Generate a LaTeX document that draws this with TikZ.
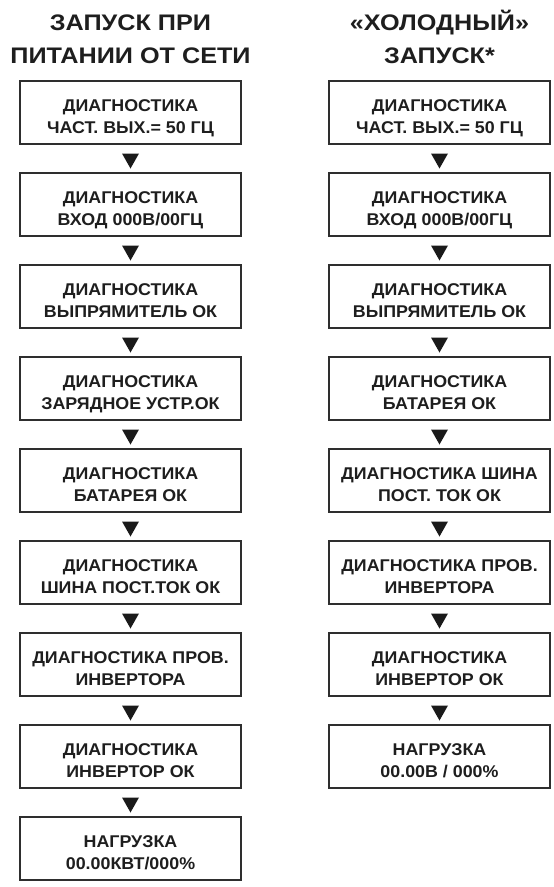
\documentclass[tikz,border=0pt]{standalone}
\usepackage{graphicx}
\usepackage{fontspec}
\setmainfont{Liberation Sans}
\usetikzlibrary{calc}
\definecolor{boxc}{HTML}{2E2E2E}
\definecolor{txtc}{HTML}{1E1E1E}
\definecolor{tric}{HTML}{1A1A1A}
\newcommand{\twoline}[2]{\raisebox{-10pt}[0pt][0pt]{\scalebox{1.05}[1]{\begin{tabular}{@{}c@{}}#1\\#2\end{tabular}}}}
\newcommand{\ttltext}[1]{\scalebox{1.12}[1]{#1}}
\newcommand{\downtri}[2]{\fill[tric] ($(#1.south)!0.5!(#2.north)+(0,2.5)$) ++(-8.5,-7.5) -- ++(17,0) -- ++(-8.5,15) -- cycle;}
\begin{document}
\begin{tikzpicture}[x=1pt,y=-1pt,
  box/.style={draw=boxc, line width=1.8pt, minimum width=221pt, minimum height=63pt,
    inner sep=0pt, font=\fontsize{17}{22.5}\selectfont\bfseries, text=txtc},
  ttl/.style={anchor=base, inner sep=0pt, font=\fontsize{22.5}{28}\selectfont\bfseries, text=txtc}]
\fill[white] (0,0) rectangle (554,887);
\useasboundingbox (0,0) rectangle (554,887);

% titles
\node[ttl] (t1a) at (130.5,30) {\ttltext{ЗАПУСК ПРИ}};
\node[ttl] (t1b) at (130.5,63) {\ttltext{ПИТАНИИ ОТ СЕТИ}};
\node[ttl] (t2a) at (439.5,30) {\ttltext{«ХОЛОДНЫЙ»}};
\node[ttl] (t2b) at (439.5,63) {\ttltext{ЗАПУСК*}};

% left column
\node[box] (L1) at (130.5,112.5) {\twoline{ДИАГНОСТИКА}{ЧАСТ. ВЫХ.= 50 ГЦ}};
\node[box] (L2) at (130.5,204.5) {\twoline{ДИАГНОСТИКА}{ВХОД 000В/00ГЦ}};
\node[box] (L3) at (130.5,296.5) {\twoline{ДИАГНОСТИКА}{ВЫПРЯМИТЕЛЬ ОК}};
\node[box] (L4) at (130.5,388.5) {\twoline{ДИАГНОСТИКА}{ЗАРЯДНОЕ УСТР.ОК}};
\node[box] (L5) at (130.5,480.5) {\twoline{ДИАГНОСТИКА}{БАТАРЕЯ ОК}};
\node[box] (L6) at (130.5,572.5) {\twoline{ДИАГНОСТИКА}{ШИНА ПОСТ.ТОК ОК}};
\node[box] (L7) at (130.5,664.5) {\twoline{ДИАГНОСТИКА ПРОВ.}{ИНВЕРТОРА}};
\node[box] (L8) at (130.5,756.5) {\twoline{ДИАГНОСТИКА}{ИНВЕРТОР ОК}};
\node[box] (L9) at (130.5,848.5) {\twoline{НАГРУЗКА}{00.00КВТ/000\%}};

% right column
\node[box] (R1) at (439.5,112.5) {\twoline{ДИАГНОСТИКА}{ЧАСТ. ВЫХ.= 50 ГЦ}};
\node[box] (R2) at (439.5,204.5) {\twoline{ДИАГНОСТИКА}{ВХОД 000В/00ГЦ}};
\node[box] (R3) at (439.5,296.5) {\twoline{ДИАГНОСТИКА}{ВЫПРЯМИТЕЛЬ ОК}};
\node[box] (R4) at (439.5,388.5) {\twoline{ДИАГНОСТИКА}{БАТАРЕЯ ОК}};
\node[box] (R5) at (439.5,480.5) {\twoline{ДИАГНОСТИКА ШИНА}{ПОСТ. ТОК ОК}};
\node[box] (R6) at (439.5,572.5) {\twoline{ДИАГНОСТИКА ПРОВ.}{ИНВЕРТОРА}};
\node[box] (R7) at (439.5,664.5) {\twoline{ДИАГНОСТИКА}{ИНВЕРТОР ОК}};
\node[box] (R8) at (439.5,756.5) {\twoline{НАГРУЗКА}{00.00В / 000\%}};

% arrow heads between boxes
\downtri{L1}{L2}\downtri{L2}{L3}\downtri{L3}{L4}\downtri{L4}{L5}
\downtri{L5}{L6}\downtri{L6}{L7}\downtri{L7}{L8}\downtri{L8}{L9}
\downtri{R1}{R2}\downtri{R2}{R3}\downtri{R3}{R4}\downtri{R4}{R5}
\downtri{R5}{R6}\downtri{R6}{R7}\downtri{R7}{R8}
\end{tikzpicture}
\end{document}
